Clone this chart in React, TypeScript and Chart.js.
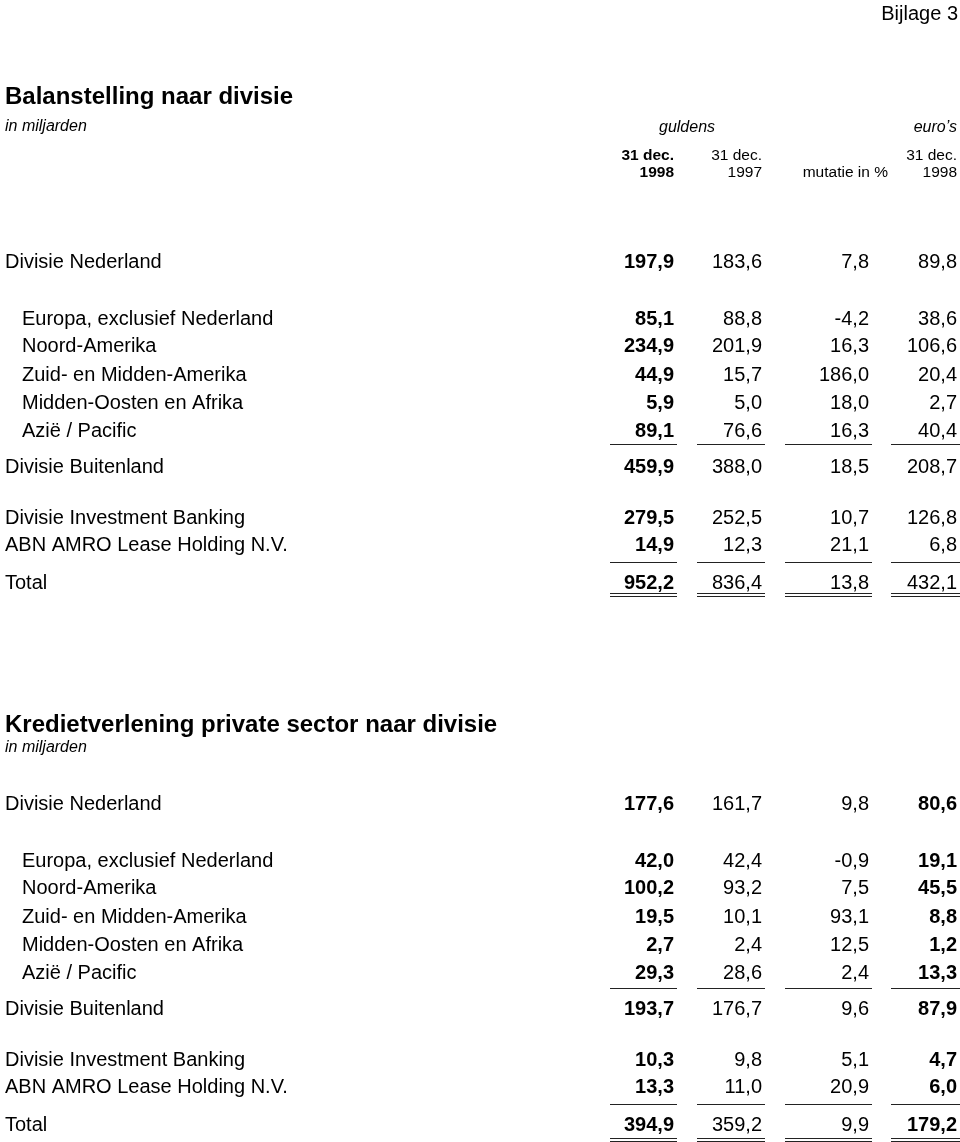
import React, { useEffect, useRef } from "react";
import { Chart, registerables } from "chart.js";

Chart.register(...registerables);

// ---------- data ----------
const rowLabels = [
  "Divisie Nederland",
  "Europa, exclusief Nederland",
  "Noord-Amerika",
  "Zuid- en Midden-Amerika",
  "Midden-Oosten en Afrika",
  "Azië / Pacific",
  "Divisie Buitenland",
  "Divisie Investment Banking",
  "ABN AMRO Lease Holding N.V.",
  "Total",
];

const balans1998 = [197.9, 85.1, 234.9, 44.9, 5.9, 89.1, 459.9, 279.5, 14.9, 952.2];
const balans1997 = [183.6, 88.8, 201.9, 15.7, 5.0, 76.6, 388.0, 252.5, 12.3, 836.4];
const balansMutatie = [7.8, -4.2, 16.3, 186.0, 18.0, 16.3, 18.5, 10.7, 21.1, 13.8];
const balansEuro1998 = [89.8, 38.6, 106.6, 20.4, 2.7, 40.4, 208.7, 126.8, 6.8, 432.1];

const krediet1998 = [177.6, 42.0, 100.2, 19.5, 2.7, 29.3, 193.7, 10.3, 13.3, 394.9];
const krediet1997 = [161.7, 42.4, 93.2, 10.1, 2.4, 28.6, 176.7, 9.8, 11.0, 359.2];
const kredietMutatie = [9.8, -0.9, 7.5, 93.1, 12.5, 2.4, 9.6, 5.1, 20.9, 9.9];
const kredietEuro1998 = [80.6, 19.1, 45.5, 8.8, 1.2, 13.3, 87.9, 4.7, 6.0, 179.2];

const pageLabel = "Bijlage 3";
const title1 = "Balanstelling naar divisie";
const title2 = "Kredietverlening private sector naar divisie";
const unitLabel = "in miljarden";
const currencyGuldens = "guldens";
const currencyEuros = "euro\u2019s";
const headTop = ["31 dec.", "31 dec.", "", "31 dec."];
const headBottom = ["1998", "1997", "mutatie in %", "1998"];

// ---------- layout (positions & styles, not data) ----------
const W = 960;
const H = 1142;
const FONT = '"Liberation Sans", Arial, Helvetica, sans-serif';
const rowIndent = [0, 1, 1, 1, 1, 1, 0, 0, 0, 0];
const rowOffsets = [0, 57, 84, 113, 141, 169, 205, 256, 283, 321];
const colRight = [674, 762, 869, 957];
const headRight = [674, 762, 888, 957];
const ruleLeft = [610, 697, 785, 891];
const ruleRight = [677, 765, 872, 960];

const fmt = (v: number) => v.toFixed(1).replace(".", ",");

type Section = {
  title: string;
  titleBase: number;
  unitBase: number;
  firstBase: number;
  cols: number[][];
  bold: boolean[];
  ruleOffsets: number[];
};

const sections: Section[] = [
  {
    title: title1,
    titleBase: 104,
    unitBase: 131,
    firstBase: 268,
    cols: [balans1998, balans1997, balansMutatie, balansEuro1998],
    bold: [true, false, false, false],
    ruleOffsets: [7, 11, 4],
  },
  {
    title: title2,
    titleBase: 732,
    unitBase: 752,
    firstBase: 810,
    cols: [krediet1998, krediet1997, kredietMutatie, kredietEuro1998],
    bold: [true, false, false, true],
    ruleOffsets: [9, 11, 7],
  },
];

const tablePlugin = {
  id: "tablePlugin",
  afterDraw(chart: any) {
    const ctx = chart.ctx as CanvasRenderingContext2D;
    const xs = chart.scales.x;
    const ys = chart.scales.y;
    const X = (v: number) => xs.getPixelForValue(v);
    const Y = (v: number) => ys.getPixelForValue(v);
    ctx.save();
    ctx.fillStyle = "#000";
    ctx.textBaseline = "alphabetic";

    const text = (s: string, x: number, y: number, font: string, align: CanvasTextAlign) => {
      ctx.font = font;
      ctx.textAlign = align;
      ctx.fillText(s, X(x), Y(y));
    };
    const rule = (x1: number, x2: number, y: number) => {
      const py = Math.round(Y(y)) + 0.5;
      ctx.beginPath();
      ctx.moveTo(X(x1), py);
      ctx.lineTo(X(x2), py);
      ctx.stroke();
    };

    text(pageLabel, 958, 20, `20px ${FONT}`, "right");

    // header of first table
    text(currencyGuldens, 687, 132, `italic 16px ${FONT}`, "center");
    text(currencyEuros, 957, 132, `italic 16px ${FONT}`, "right");
    for (let c = 0; c < 4; c++) {
      const f = c === 0 ? `bold 15.5px ${FONT}` : `15.5px ${FONT}`;
      if (headTop[c]) text(headTop[c], headRight[c], 160, f, "right");
      text(headBottom[c], headRight[c], 177, f, "right");
    }

    ctx.strokeStyle = "#222";
    ctx.lineWidth = 1;

    sections.forEach((s) => {
      text(s.title, 5, s.titleBase, `bold 24px ${FONT}`, "left");
      text(unitLabel, 5, s.unitBase, `italic 16px ${FONT}`, "left");
      rowLabels.forEach((lab, r) => {
        const base = s.firstBase + rowOffsets[r];
        text(lab, rowIndent[r] ? 22 : 5, base, `20px ${FONT}`, "left");
        s.cols.forEach((col, c) => {
          const f = s.bold[c] ? `bold 20px ${FONT}` : `20px ${FONT}`;
          text(fmt(col[r]), colRight[c], base, f, "right");
        });
      });
      // rules: under Azië / Pacific, under Lease row, double under Total
      const [o1, o2, o3] = s.ruleOffsets;
      for (let c = 0; c < 4; c++) {
        rule(ruleLeft[c], ruleRight[c], s.firstBase + rowOffsets[5] + o1);
        rule(ruleLeft[c], ruleRight[c], s.firstBase + rowOffsets[8] + o2);
        rule(ruleLeft[c], ruleRight[c], s.firstBase + rowOffsets[9] + o3);
        rule(ruleLeft[c], ruleRight[c], s.firstBase + rowOffsets[9] + o3 + 3);
      }
    });
    ctx.restore();
  },
};

export default function App() {
  const ref = useRef<HTMLCanvasElement | null>(null);
  useEffect(() => {
    document.body.style.margin = "0";
    const canvas = ref.current;
    if (!canvas) return;
    const chart = new Chart(canvas, {
      type: "scatter",
      data: { datasets: [] },
      options: {
        animation: false,
        responsive: false,
        devicePixelRatio: 1,
        layout: { padding: 0 },
        plugins: { legend: { display: false }, tooltip: { enabled: false } },
        scales: {
          x: { type: "linear", display: false, min: 0, max: W },
          y: { type: "linear", display: false, min: 0, max: H, reverse: true },
        },
      },
      plugins: [tablePlugin],
    });
    return () => chart.destroy();
  }, []);
  return (
    <div style={{ position: "absolute", left: 0, top: 0, width: W, height: H, background: "#fff" }}>
      <canvas ref={ref} width={W} height={H} style={{ display: "block" }} />
    </div>
  );
}
